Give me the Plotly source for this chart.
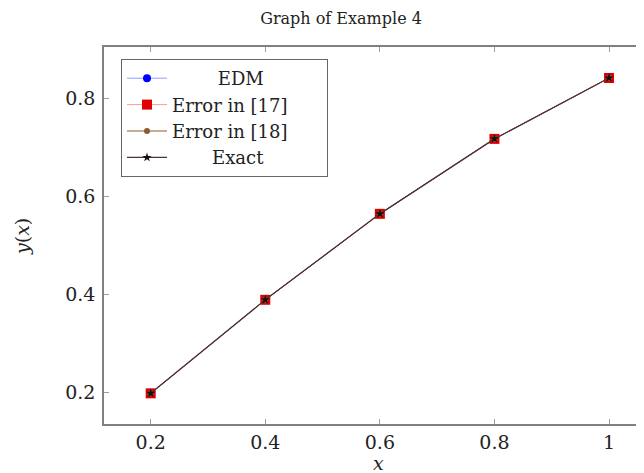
import plotly.graph_objects as go

x_vals = [0.2, 0.4, 0.6, 0.8, 1.0]
edm = [0.1987, 0.3894, 0.5646, 0.7174, 0.8415]
err17 = [0.1987, 0.3894, 0.5646, 0.7174, 0.8415]
err18 = [0.1987, 0.3894, 0.5646, 0.7174, 0.8415]
exact = [0.1987, 0.3894, 0.5646, 0.7174, 0.8415]
series_names = ["EDM", "Error in [17]", "Error in [18]", "Exact"]

x_ticks = [0.2, 0.4, 0.6, 0.8, 1.0]
x_ticktext = ["0.2", "0.4", "0.6", "0.8", "1"]
y_ticks = [0.2, 0.4, 0.6, 0.8]
y_ticktext = ["0.2", "0.4", "0.6", "0.8"]

FONT = "DejaVu Serif"
TXT = "#222222"

# page is offset by the 8px default body margin
L, T, B, R = 96, 39, 57, 0
W, H = 644, 473
PW = W - L - R
PH = H - T - B


def px(fx):
    return (fx - L) / PW


def py(fy):
    return 1 - (fy - T) / PH


def pad(name, before, after):
    return "&nbsp;" * before + name + "&nbsp;" * after


fig = go.Figure()
fig.add_trace(go.Scatter(x=x_vals, y=edm, name=pad(series_names[0], 8, 0), mode="lines+markers",
                         line=dict(color="#9999ff", width=1),
                         marker=dict(symbol="circle", size=8, color="#0000ff"),
                         legendrank=1))
fig.add_trace(go.Scatter(x=x_vals, y=err17, name=pad(series_names[1], 0, 6), mode="lines+markers",
                         line=dict(color="#ff9999", width=1),
                         marker=dict(symbol="square", size=10, color="#e00000"),
                         legendrank=2))
fig.add_trace(go.Scatter(x=x_vals, y=err18, name=pad(series_names[2], 0, 6), mode="lines+markers",
                         line=dict(color="#8c5a30", width=1),
                         marker=dict(symbol="circle", size=6, color="#8c5a30"),
                         legendrank=3))
fig.add_trace(go.Scatter(x=x_vals, y=exact, name=pad(series_names[3], 7, 0), mode="lines+markers",
                         line=dict(color="#4d3338", width=1.3),
                         marker=dict(symbol="star", size=7, color="#111111"),
                         legendrank=4))

fig.update_layout(
    width=W, height=H,
    margin=dict(l=L, r=R, t=T, b=B, autoexpand=False),
    plot_bgcolor="white", paper_bgcolor="white",
    font=dict(family=FONT, size=19, color=TXT),
    showlegend=True,
    legend=dict(x=px(113), y=py(51), xanchor="left", yanchor="top",
                bordercolor="#666666", borderwidth=1, bgcolor="white",
                font=dict(family=FONT, size=18, color=TXT),
                itemwidth=40, tracegroupgap=0),
    title=dict(text="Graph of Example 4", x=333 / W, xanchor="center",
               y=1 - 10 / H, yanchor="middle",
               font=dict(family=FONT, size=16, color=TXT)),
    annotations=[
        dict(text="<i>x</i>", xref="paper", yref="paper", x=px(370), y=py(455),
             xanchor="center", yanchor="middle", showarrow=False,
             font=dict(family=FONT, size=19, color=TXT)),
        dict(text="<i>y</i>(<i>x</i>)", xref="paper", yref="paper", x=px(14), y=py(229),
             xanchor="center", yanchor="middle", showarrow=False, textangle=-90,
             font=dict(family=FONT, size=19, color=TXT)),
    ],
)
fig.update_xaxes(range=[0.1185, 1.075], tickvals=x_ticks, ticktext=x_ticktext,
                 showgrid=False, zeroline=False, showline=True, linecolor="#808080",
                 linewidth=1.5, mirror="ticks", ticks="inside", ticklen=5,
                 tickcolor="#a0a0a0", tickfont=dict(family=FONT, size=19),
                 automargin=False)
fig.update_yaxes(range=[0.1362, 0.9047], tickvals=y_ticks, ticktext=y_ticktext,
                 showgrid=False, zeroline=False, showline=True, linecolor="#808080",
                 linewidth=1.5, ticks="inside", ticklen=5, ticklabelstandoff=3,
                 tickcolor="#a0a0a0", tickfont=dict(family=FONT, size=19),
                 automargin=False)

fig.write_html("out.html")
